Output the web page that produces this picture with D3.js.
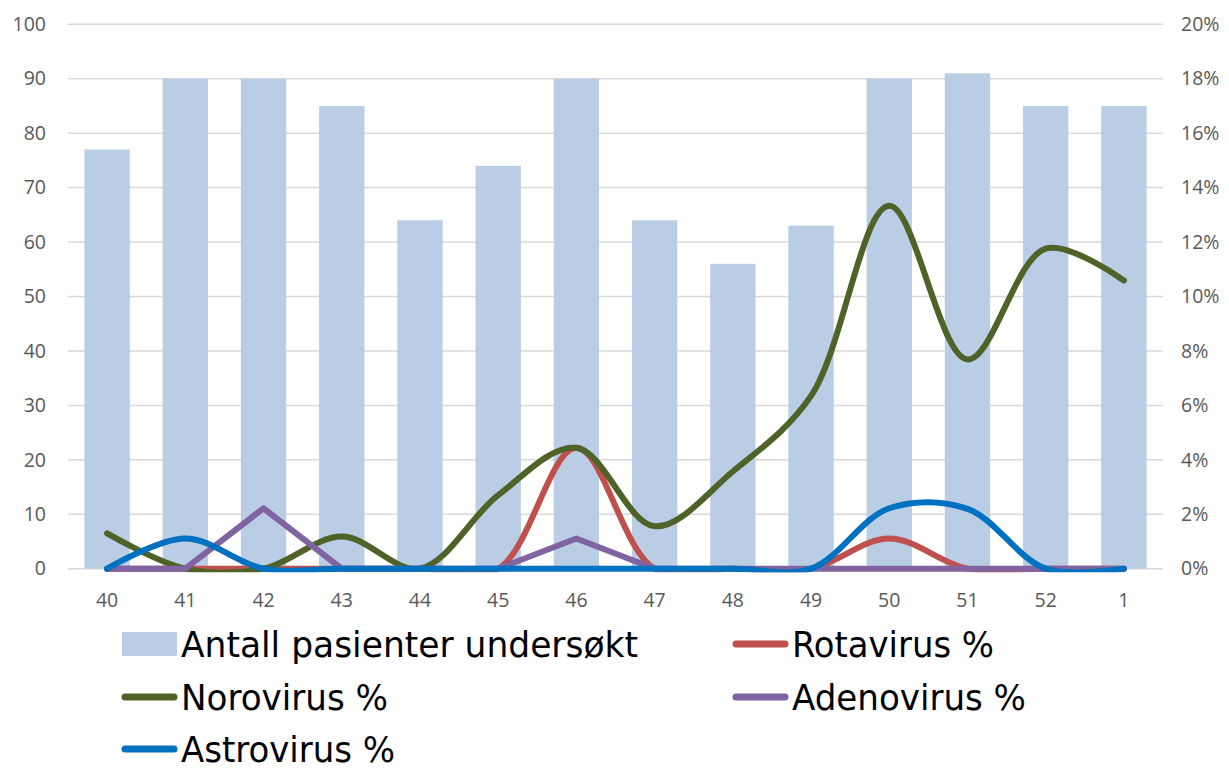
<!DOCTYPE html>
<html><head><meta charset="utf-8">
<script src="https://cdn.jsdelivr.net/npm/d3@7"></script>
<style>body{margin:0;background:#fff}svg{display:block}</style>
</head><body><svg id="c" width="1229" height="769"></svg>
<script>
const weeks = ["40","41","42","43","44","45","46","47","48","49","50","51","52","1"];
const patients = [77,90,90,85,64,74,90,64,56,63,90,91,85,85];
const rotavirus = [0,0,0,0,0,0,0.0444,0,0,0,0.0111,0,0,0];
const norovirus = [0.013,0,0,0.0118,0,0.027,0.0444,0.0156,0.0357,0.0635,0.1333,0.0769,0.1176,0.1059];
const adenovirus = [0,0,0.0222,0,0,0,0.0111,0,0,0,0,0,0,0];
const astrovirus = [0,0.0111,0,0,0,0,0,0,0,0,0.0222,0.022,0,0];
const leftTicks = [0,10,20,30,40,50,60,70,80,90,100];
const rightTicks = [0,0.02,0.04,0.06,0.08,0.10,0.12,0.14,0.16,0.18,0.20];

const svg = d3.select("#c");
const x = d3.scaleBand().domain(weeks).range([68,1163]).paddingInner(0.42).paddingOuter(0.21);
const yL = d3.scaleLinear().domain([0,100]).range([568.7,24.3]);
const yR = d3.scaleLinear().domain([0,0.2]).range([568.7,24.3]);
const tickFont = "'Open Sans','Liberation Sans',sans-serif";

svg.append("defs").append("clipPath").attr("id","plotclip")
  .append("rect").attr("x",0).attr("y",0).attr("width",1229).attr("height",yR(0)+3.5);

// gridlines
svg.append("g").selectAll("line").data(leftTicks).join("line")
  .attr("x1",68).attr("x2",1163).attr("y1",d=>yL(d)).attr("y2",d=>yL(d))
  .attr("stroke","#d9d9d9").attr("stroke-width",1.5);

// left axis
const gl = svg.append("g").attr("transform","translate(46,0)")
  .call(d3.axisLeft(yL).tickValues(leftTicks).tickSize(0).tickPadding(0));
gl.select(".domain").remove();
gl.selectAll("text").attr("font-family",tickFont).attr("font-size",19.5).attr("fill","#595959");

// right axis
const gr = svg.append("g").attr("transform","translate(1181,0)")
  .call(d3.axisRight(yR).tickValues(rightTicks).tickFormat(d3.format(".0%")).tickSize(0).tickPadding(0));
gr.select(".domain").remove();
gr.selectAll("text").attr("font-family",tickFont).attr("font-size",19.5).attr("fill","#595959");

// bottom axis
const gb = svg.append("g").attr("transform","translate(0,593)")
  .call(d3.axisBottom(x).tickSize(0).tickPadding(0));
gb.select(".domain").remove();
gb.selectAll("text").attr("font-family",tickFont).attr("font-size",19.5).attr("fill","#595959");

// bars
svg.append("g").selectAll("rect").data(patients).join("rect")
  .attr("x",(d,i)=>x(weeks[i])).attr("width",x.bandwidth())
  .attr("y",d=>yL(d)).attr("height",d=>yL(0)-yL(d)).attr("fill","#b9cde5");

// lines
const series = [
  {name:"Rotavirus %", values:rotavirus, color:"#c0504d", smooth:true},
  {name:"Norovirus %", values:norovirus, color:"#4f6228", smooth:true},
  {name:"Adenovirus %", values:adenovirus, color:"#8064a2", smooth:false},
  {name:"Astrovirus %", values:astrovirus, color:"#0070c0", smooth:true}
];
const cx = w => x(w)+x.bandwidth()/2;
const lines = svg.append("g").attr("clip-path","url(#plotclip)");
series.forEach(s=>{
  const line = d3.line().x((d,i)=>cx(weeks[i])).y(d=>yR(d))
    .curve(s.smooth ? d3.curveCatmullRom.alpha(0.5) : d3.curveLinear);
  lines.append("path").datum(s.values).attr("d",line).attr("fill","none")
    .attr("stroke",s.color).attr("stroke-width",6).attr("stroke-linejoin","round").attr("stroke-linecap","round");
});

// legend
const legFont = "'Liberation Sans Narrow','DejaVu Sans Condensed','Liberation Sans',sans-serif";
const lg = svg.append("g");
lg.append("rect").attr("x",122).attr("y",632).attr("width",55).attr("height",24).attr("fill","#b9cde5");
const items = [
  {label:"Antall pasienter undersøkt", x:181, y:657, w:457},
  {label:series[0].name, x:792, y:657, w:202, color:series[0].color, lx:733},
  {label:series[1].name, x:181, y:710, w:207, color:series[1].color, lx:122},
  {label:series[2].name, x:792, y:710, w:234, color:series[2].color, lx:733},
  {label:series[3].name, x:181, y:762, w:214, color:series[3].color, lx:122}
];
items.forEach(it=>{
  if(it.color){
    lg.append("line").attr("x1",it.lx+3).attr("x2",it.lx+52).attr("y1",it.y-13).attr("y2",it.y-13)
      .attr("stroke",it.color).attr("stroke-width",7).attr("stroke-linecap","round");
  }
  lg.append("text").attr("x",it.x).attr("y",it.y).text(it.label)
    .attr("font-family",legFont).attr("font-size",36).attr("fill","#000")
    .attr("textLength",it.w).attr("lengthAdjust","spacingAndGlyphs");
});
</script></body></html>
